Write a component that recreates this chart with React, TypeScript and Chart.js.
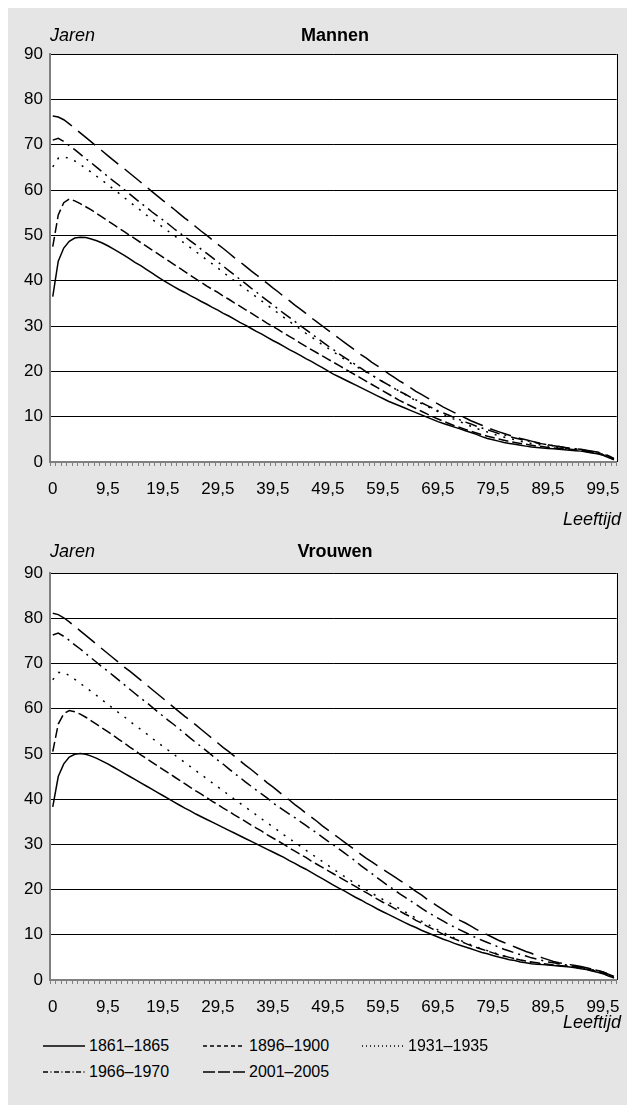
import React, { useEffect, useRef } from "react";
import { Chart, registerables } from "chart.js";
Chart.register(...registerables);

// Age categories (x axis)
const ages = ["0","0,5","1,5","2,5","3,5","4,5","5,5","6,5","7,5","8,5","9,5","10,5","11,5","12,5","13,5","14,5","15,5","16,5","17,5","18,5","19,5","20,5","21,5","22,5","23,5","24,5","25,5","26,5","27,5","28,5","29,5","30,5","31,5","32,5","33,5","34,5","35,5","36,5","37,5","38,5","39,5","40,5","41,5","42,5","43,5","44,5","45,5","46,5","47,5","48,5","49,5","50,5","51,5","52,5","53,5","54,5","55,5","56,5","57,5","58,5","59,5","60,5","61,5","62,5","63,5","64,5","65,5","66,5","67,5","68,5","69,5","70,5","71,5","72,5","73,5","74,5","75,5","76,5","77,5","78,5","79,5","80,5","81,5","82,5","83,5","84,5","85,5","86,5","87,5","88,5","89,5","90,5","91,5","92,5","93,5","94,5","95,5","96,5","97,5","98,5","99,5","100,5","101,5"];

const yTicks = [0, 10, 20, 30, 40, 50, 60, 70, 80, 90];
const seriesNames = ["1861–1865", "1896–1900", "1931–1935", "1966–1970", "2001–2005"];

// Mannen
const men1861 = [36.5,44.3,47.2,48.7,49.4,49.6,49.5,49.2,48.8,48.3,
47.7,47.0,46.3,45.6,44.8,44.0,43.3,42.5,41.7,40.9,
40.1,39.4,38.7,38.0,37.4,36.7,36.1,35.4,34.8,34.1,
33.5,32.8,32.2,31.5,30.8,30.2,29.5,28.8,28.2,27.5,
26.8,26.2,25.5,24.8,24.2,23.5,22.8,22.2,21.5,20.8,
20.1,19.4,18.8,18.2,17.6,17.0,16.4,15.8,15.2,14.6,
14.0,13.4,12.9,12.4,11.9,11.4,10.9,10.4,9.9,9.4,
8.9,8.5,8.1,7.7,7.3,6.9,6.5,6.1,5.6,5.2,
4.9,4.6,4.3,4.1,3.9,3.7,3.5,3.3,3.2,3.1,
3.0,2.9,2.8,2.7,2.6,2.5,2.4,2.2,2.0,1.8,
1.5,1.0,0.5];
const men1896 = [47.5,54.5,57.2,58.0,57.6,57.0,56.3,55.6,54.8,54.0,
53.2,52.4,51.6,50.8,50.0,49.2,48.4,47.6,46.8,46.0,
45.2,44.4,43.6,42.8,42.0,41.2,40.4,39.6,38.8,38.1,
37.4,36.6,35.9,35.1,34.4,33.6,32.9,32.1,31.4,30.6,
29.9,29.2,28.4,27.7,27.0,26.2,25.5,24.8,24.1,23.4,
22.7,22.0,21.3,20.6,19.9,19.2,18.5,17.8,17.1,16.4,
15.7,15.0,14.3,13.6,13.0,12.4,11.8,11.2,10.6,10.0,
9.5,9.0,8.5,8.0,7.6,7.2,6.8,6.4,6.0,5.7,
5.4,5.1,4.8,4.5,4.3,4.1,3.9,3.7,3.5,3.4,
3.2,3.1,3.0,2.9,2.8,2.7,2.5,2.3,2.1,1.9,
1.6,1.1,0.6];
const men1931 = [65.1,67.0,67.3,67.0,66.4,65.6,64.8,63.9,63.0,62.1,
61.2,60.2,59.3,58.3,57.4,56.4,55.5,54.5,53.6,52.7,
51.8,50.9,50.0,49.1,48.2,47.3,46.4,45.5,44.6,43.7,
42.8,41.8,40.9,40.0,39.1,38.2,37.3,36.4,35.5,34.6,
33.7,32.8,31.9,31.0,30.2,29.3,28.4,27.6,26.7,25.9,
25.1,24.3,23.5,22.7,21.9,21.2,20.5,19.8,19.1,18.4,
17.7,17.0,16.3,15.6,14.9,14.2,13.5,12.9,12.3,11.7,
11.1,10.5,9.9,9.4,8.9,8.4,7.9,7.4,7.0,6.6,
6.2,5.8,5.5,5.2,4.9,4.6,4.3,4.1,3.9,3.7,
3.5,3.3,3.2,3.0,2.9,2.8,2.6,2.4,2.2,2.0,
1.7,1.2,0.6];
const men1966 = [71.0,71.4,70.7,69.8,68.9,67.9,66.9,66.0,65.0,64.0,
63.0,62.0,61.1,60.1,59.1,58.1,57.1,56.2,55.2,54.3,
53.4,52.5,51.5,50.6,49.7,48.8,47.9,46.9,46.0,45.1,
44.1,43.2,42.2,41.3,40.3,39.4,38.4,37.5,36.5,35.6,
34.7,33.7,32.8,31.9,31.0,30.1,29.2,28.3,27.4,26.5,
25.6,24.8,23.9,23.1,22.3,21.5,20.7,19.9,19.2,18.4,
17.7,17.0,16.3,15.6,15.0,14.3,13.7,13.1,12.5,11.9,
11.3,10.8,10.3,9.8,9.3,8.8,8.4,7.9,7.5,7.1,
6.7,6.3,6.0,5.6,5.3,5.0,4.7,4.5,4.2,4.0,
3.8,3.6,3.4,3.2,3.0,2.9,2.7,2.5,2.3,2.1,
1.8,1.3,0.7];
const men2001 = [76.3,76.1,75.5,74.6,73.6,72.6,71.6,70.6,69.6,68.6,
67.6,66.6,65.6,64.7,63.7,62.7,61.7,60.7,59.7,58.7,
57.7,56.8,55.8,54.8,53.8,52.9,51.9,50.9,50.0,49.0,
48.0,47.1,46.1,45.1,44.2,43.2,42.2,41.3,40.3,39.4,
38.4,37.5,36.5,35.6,34.6,33.7,32.8,31.8,30.9,30.0,
29.1,28.2,27.3,26.4,25.5,24.6,23.7,22.9,22.0,21.2,
20.4,19.5,18.7,17.9,17.2,16.4,15.6,14.9,14.2,13.5,
12.8,12.1,11.5,10.9,10.3,9.7,9.1,8.6,8.1,7.6,
7.1,6.7,6.3,5.9,5.5,5.2,4.9,4.6,4.3,4.0,
3.8,3.6,3.4,3.2,3.0,2.9,2.8,2.6,2.4,2.2,
1.9,1.4,0.8];

// Vrouwen
const women1861 = [38.3,45.0,47.8,49.3,49.9,50.1,49.9,49.5,49.0,48.4,
47.8,47.1,46.4,45.7,45.0,44.3,43.6,42.9,42.2,41.5,
40.8,40.1,39.4,38.7,38.0,37.4,36.7,36.1,35.5,34.9,
34.3,33.7,33.1,32.5,31.9,31.3,30.7,30.1,29.5,28.9,
28.3,27.7,27.1,26.4,25.8,25.1,24.5,23.8,23.1,22.4,
21.7,21.0,20.3,19.7,19.0,18.3,17.7,17.0,16.4,15.7,
15.1,14.5,13.9,13.3,12.7,12.1,11.6,11.0,10.5,10.0,
9.5,9.0,8.6,8.1,7.7,7.3,6.9,6.5,6.1,5.8,
5.4,5.1,4.8,4.5,4.3,4.0,3.8,3.6,3.5,3.4,
3.3,3.2,3.1,3.0,2.9,2.7,2.5,2.3,2.0,1.7,
1.4,0.9,0.5];
const women1896 = [50.5,56.6,58.9,59.6,59.3,58.8,58.1,57.3,56.5,55.7,
54.9,54.1,53.2,52.4,51.5,50.7,49.8,49.0,48.2,47.4,
46.6,45.8,45.0,44.2,43.4,42.6,41.8,41.1,40.3,39.5,
38.8,38.0,37.3,36.5,35.8,35.1,34.3,33.6,32.9,32.1,
31.4,30.7,30.0,29.2,28.5,27.8,27.1,26.3,25.6,24.9,
24.2,23.5,22.8,22.1,21.4,20.7,20.0,19.3,18.6,17.9,
17.2,16.6,15.9,15.3,14.6,14.0,13.2,12.6,11.9,11.3,
10.7,10.1,9.6,9.1,8.6,8.1,7.6,7.2,6.8,6.4,
6.0,5.6,5.3,5.0,4.7,4.4,4.2,4.0,3.8,3.6,
3.5,3.3,3.2,3.1,3.0,2.8,2.6,2.4,2.2,1.9,
1.5,1.0,0.5];
const women1931 = [66.4,68.0,68.0,67.3,66.5,65.6,64.7,63.8,62.9,61.9,
61.0,60.0,59.1,58.2,57.2,56.3,55.4,54.5,53.5,52.6,
51.7,50.8,49.9,49.0,48.1,47.2,46.3,45.4,44.5,43.6,
42.7,41.8,40.9,40.0,39.1,38.2,37.4,36.5,35.6,34.7,
33.9,33.0,32.1,31.3,30.4,29.6,28.7,27.9,27.0,26.2,
25.4,24.5,23.7,22.9,22.1,21.3,20.6,19.9,19.2,18.5,
17.8,17.2,16.5,15.8,15.1,14.4,13.7,13.0,12.4,11.7,
11.1,10.5,9.9,9.3,8.8,8.3,7.8,7.3,6.9,6.5,
6.1,5.7,5.3,5.0,4.7,4.4,4.1,3.9,3.7,3.5,
3.4,3.3,3.2,3.1,3.0,2.9,2.7,2.5,2.3,2.0,
1.6,1.1,0.6];
const women1966 = [76.3,76.7,76.0,75.1,74.1,73.2,72.2,71.2,70.2,69.2,
68.3,67.3,66.3,65.3,64.3,63.3,62.3,61.4,60.4,59.4,
58.4,57.4,56.5,55.5,54.5,53.5,52.5,51.6,50.6,49.6,
48.6,47.7,46.7,45.7,44.8,43.8,42.9,42.0,41.1,40.2,
39.2,38.3,37.5,36.7,35.9,35.0,34.2,33.3,32.5,31.6,
30.7,29.9,29.0,28.1,27.2,26.3,25.3,24.4,23.5,22.6,
21.7,20.8,20.0,19.1,18.3,17.5,16.7,15.9,15.1,14.4,
13.7,13.0,12.3,11.7,11.1,10.5,9.9,9.3,8.8,8.3,
7.8,7.3,6.8,6.4,6.0,5.6,5.3,4.9,4.6,4.3,
4.0,3.8,3.6,3.4,3.2,3.0,2.8,2.6,2.4,2.1,
1.8,1.3,0.7];
const women2001 = [81.1,80.8,80.1,79.2,78.2,77.2,76.2,75.2,74.2,73.2,
72.2,71.2,70.2,69.2,68.3,67.3,66.3,65.3,64.3,63.3,
62.3,61.3,60.3,59.3,58.3,57.4,56.4,55.4,54.4,53.4,
52.4,51.4,50.5,49.5,48.5,47.5,46.6,45.6,44.6,43.6,
42.7,41.7,40.7,39.8,38.8,37.9,36.9,36.0,35.1,34.1,
33.2,32.3,31.4,30.5,29.6,28.7,27.8,26.9,26.1,25.3,
24.5,23.7,22.9,22.1,21.3,20.5,19.6,18.8,17.9,17.1,
16.3,15.5,14.7,13.9,13.2,12.6,11.9,11.2,10.6,10.0,
9.4,8.8,8.3,7.8,7.3,6.8,6.3,5.9,5.3,4.9,
4.5,4.1,3.8,3.6,3.4,3.2,3.0,2.7,2.4,2.1,
1.8,1.3,0.8];

const menSeries = [men1861, men1896, men1931, men1966, men2001];
const womenSeries = [women1861, women1896, women1931, women1966, women2001];

// Styles (line dash patterns)
const chartDashes: number[][] = [[], [10, 4], [2, 7], [12, 5, 2, 5], [22, 8]];
const legendDashes = ["none", "4 3", "1 3", "5 2.5 1 2.5", "12 3"];

const FONT = '"Liberation Sans", Arial, Helvetica, sans-serif';

const framePlugin = {
  id: "frame",
  beforeDraw(chart: any) {
    const { ctx, chartArea: a } = chart;
    ctx.save();
    ctx.fillStyle = "#ffffff";
    ctx.fillRect(a.left, a.top, a.right - a.left, a.bottom - a.top);
    ctx.restore();
  },
  afterDraw(chart: any) {
    const { ctx, chartArea: a } = chart;
    ctx.save();
    ctx.strokeStyle = "#000000";
    ctx.lineWidth = 1;
    ctx.beginPath();
    ctx.moveTo(Math.round(a.right) + 0.5, a.top);
    ctx.lineTo(Math.round(a.right) + 0.5, a.bottom);
    ctx.stroke();
    ctx.restore();
  },
};

function makeConfig(series: number[][], padTop: number, padBottom: number): any {
  return {
    type: "line",
    data: {
      labels: ages,
      datasets: series.map((d, i) => ({
        label: seriesNames[i],
        data: d,
        borderColor: "#000000",
        borderWidth: 1.5,
        borderDash: chartDashes[i],
        pointRadius: 0,
        tension: 0,
        fill: false,
      })),
    },
    options: {
      animation: false,
      responsive: false,
      maintainAspectRatio: false,
      layout: { padding: { left: 0, right: 7, top: padTop, bottom: padBottom } },
      plugins: {
        legend: { display: false },
        tooltip: { enabled: false },
        title: { display: false },
      },
      scales: {
        x: {
          type: "category",
          offset: true,
          grid: {
            display: true,
            offset: true,
            drawOnChartArea: false,
            drawTicks: true,
            tickLength: 4,
            color: "#808080",
            lineWidth: 1,
          },
          border: { display: true, color: "#808080", width: 2 },
          ticks: {
            autoSkip: false,
            maxRotation: 0,
            minRotation: 0,
            padding: 13,
            color: "#000000",
            font: { family: FONT, size: 17 },
            callback: (_v: any, i: number) => (i % 10 === 0 ? ages[i] : ""),
          },
          afterFit: (s: any) => {
            s.height = 40;
          },
        },
        y: {
          min: yTicks[0],
          max: yTicks[yTicks.length - 1],
          afterBuildTicks: (s: any) => {
            s.ticks = yTicks.map((v) => ({ value: v }));
          },
          grid: { color: "#000000", lineWidth: 1, drawTicks: false },
          border: { display: true, color: "#808080", width: 2 },
          ticks: {
            padding: 7,
            color: "#000000",
            font: { family: FONT, size: 17 },
          },
          afterFit: (s: any) => {
            s.width = 42;
          },
        },
      },
    },
    plugins: [framePlugin],
  };
}

const textBase: React.CSSProperties = {
  position: "absolute",
  fontFamily: FONT,
  fontSize: 18,
  lineHeight: "18px",
  color: "#000",
  whiteSpace: "nowrap",
};

function LegendItem({ idx, left, top }: { idx: number; left: number; top: number }) {
  return (
    <div
      style={{
        position: "absolute",
        left,
        top,
        height: 18,
        display: "flex",
        alignItems: "center",
        fontFamily: FONT,
        fontSize: 16,
        color: "#000",
        whiteSpace: "nowrap",
      }}
    >
      <svg width={42} height={10} style={{ display: "block" }}>
        <line
          x1={0}
          y1={5}
          x2={42}
          y2={5}
          stroke="#000"
          strokeWidth={1.3}
          strokeDasharray={legendDashes[idx]}
        />
      </svg>
      <span style={{ marginLeft: 4 }}>{seriesNames[idx]}</span>
    </div>
  );
}

export default function App() {
  const c1 = useRef<HTMLCanvasElement>(null);
  const c2 = useRef<HTMLCanvasElement>(null);

  useEffect(() => {
    const ch1 = new Chart(c1.current as HTMLCanvasElement, makeConfig(menSeries, 46, 21));
    const ch2 = new Chart(c2.current as HTMLCanvasElement, makeConfig(womenSeries, 50, 3));
    return () => {
      ch1.destroy();
      ch2.destroy();
    };
  }, []);

  return (
    <>
      <style>{"html,body{margin:0;padding:0;overflow:hidden;}"}</style>
      <div
        style={{
          position: "absolute",
          left: 8,
          top: 8,
          width: 619,
          height: 1097,
          background: "#e5e5e5",
          overflow: "hidden",
        }}
      >
        <canvas ref={c1} width={619} height={515} style={{ position: "absolute", left: 0, top: 0, width: 619, height: 515 }} />
        <canvas ref={c2} width={619} height={500} style={{ position: "absolute", left: 0, top: 515, width: 619, height: 500 }} />

        <div style={{ ...textBase, left: 42, top: 18, fontStyle: "italic" }}>Jaren</div>
        <div style={{ ...textBase, left: 42, width: 570, top: 18, textAlign: "center", fontWeight: "bold" }}>Mannen</div>
        <div style={{ ...textBase, right: 6, top: 502, fontStyle: "italic" }}>Leeftijd</div>

        <div style={{ ...textBase, left: 42, top: 534, fontStyle: "italic" }}>Jaren</div>
        <div style={{ ...textBase, left: 42, width: 570, top: 534, textAlign: "center", fontWeight: "bold" }}>Vrouwen</div>
        <div style={{ ...textBase, right: 6, top: 1005, fontStyle: "italic" }}>Leeftijd</div>

        <LegendItem idx={0} left={35} top={1029} />
        <LegendItem idx={1} left={195} top={1029} />
        <LegendItem idx={2} left={354} top={1029} />
        <LegendItem idx={3} left={35} top={1055} />
        <LegendItem idx={4} left={195} top={1055} />
      </div>
    </>
  );
}
